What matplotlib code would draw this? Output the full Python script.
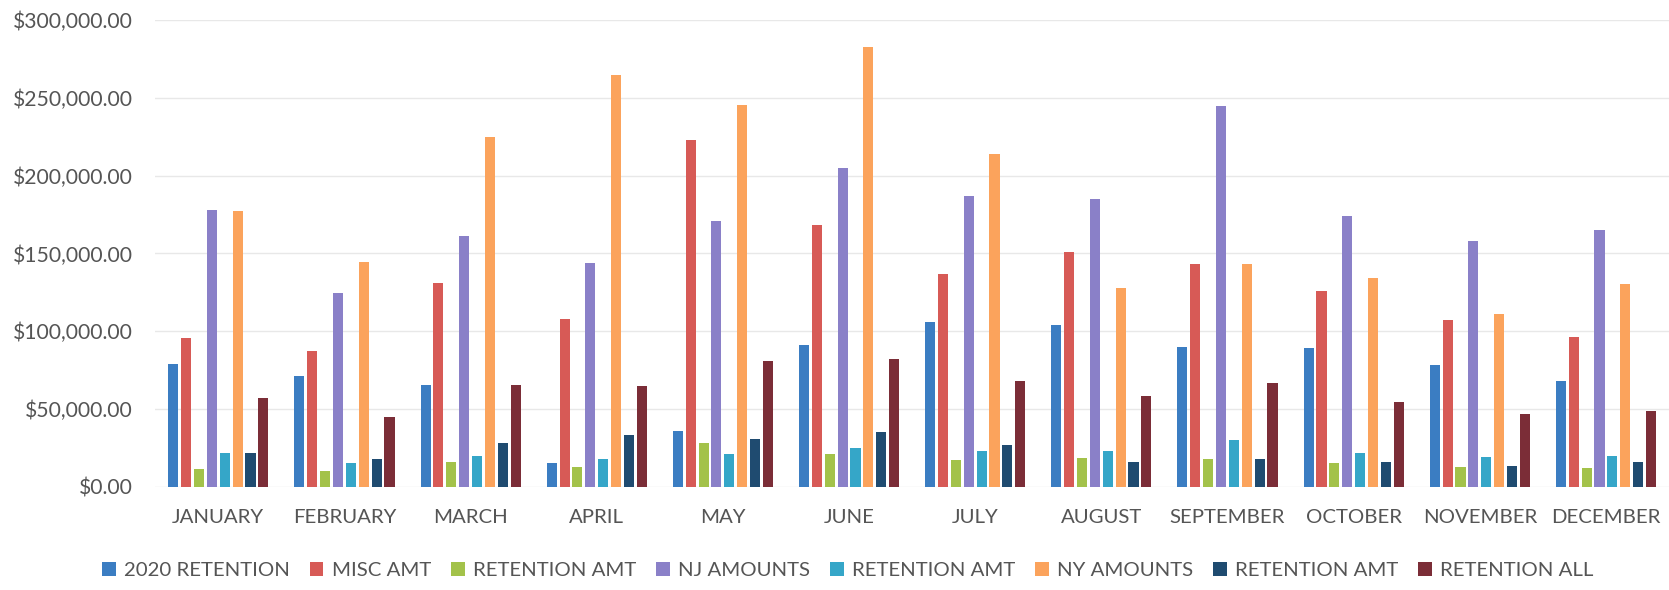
import matplotlib
matplotlib.use("Agg")
import matplotlib.pyplot as plt
from matplotlib.ticker import FuncFormatter, MultipleLocator
import numpy as np

months = ["JANUARY", "FEBRUARY", "MARCH", "APRIL", "MAY", "JUNE", "JULY",
          "AUGUST", "SEPTEMBER", "OCTOBER", "NOVEMBER", "DECEMBER"]

retention_2020 = [79000, 71500, 65500, 15000, 36000, 91000, 106000, 104000, 90000, 89000, 78000, 68000]
misc_amt = [95700, 87500, 131000, 108000, 223000, 168000, 137000, 151000, 143000, 126000, 107000, 96000]
retention_amt_1 = [11600, 10300, 16000, 13000, 28000, 21000, 17000, 18500, 17600, 15500, 12700, 11800]
nj_amounts = [177700, 124500, 161000, 143600, 170800, 205000, 187000, 185000, 245000, 174000, 157700, 165000]
retention_amt_2 = [22000, 15000, 20000, 17600, 21000, 25000, 23000, 23000, 30000, 21700, 19200, 19900]
ny_amounts = [177000, 144600, 225000, 264800, 245700, 282600, 214000, 128000, 143000, 134000, 111000, 130500]
retention_amt_3 = [22000, 17900, 28400, 33000, 30500, 35000, 26600, 16000, 17600, 16000, 13400, 15600]
retention_all = [56900, 45000, 65500, 65000, 81000, 82000, 68000, 58600, 66500, 54500, 47000, 49000]

series_names = ["2020 RETENTION", "MISC AMT", "RETENTION AMT", "NJ AMOUNTS",
                "RETENTION AMT", "NY AMOUNTS", "RETENTION AMT", "RETENTION ALL"]
series_values = [retention_2020, misc_amt, retention_amt_1, nj_amounts,
                 retention_amt_2, ny_amounts, retention_amt_3, retention_all]
colors = ["#3B7DC2", "#D75A56", "#A3C24A", "#8A80C8", "#35A6C8", "#FBA35C", "#1F4B70", "#7B2D37"]

plt.rcParams['font.family'] = ['Lato', 'DejaVu Sans']

fig = plt.figure(figsize=(16.69, 5.90), dpi=100)
ax = fig.add_axes([0.093, 0.175, 0.907, 0.791])

x = np.arange(len(months))
n = len(series_values)
slot = 0.102
bw = 0.08
for i, (name, vals, c) in enumerate(zip(series_names, series_values, colors)):
    offs = (i - (n - 1) / 2) * slot
    ax.bar(x + offs, vals, width=bw, color=c, label=name, zorder=3)

ax.set_xlim(-0.5, len(months) - 0.5)
ax.set_ylim(0, 300000)
ax.yaxis.set_major_locator(MultipleLocator(50000))
ax.yaxis.set_major_formatter(FuncFormatter(lambda v, p: "${:,.2f}".format(v)))
ax.set_xticks(x)
ax.set_xticklabels(months)
ax.grid(axis='y', color='#E8E8E8', linewidth=1, zorder=0)
for s in ax.spines.values():
    s.set_visible(False)
ax.tick_params(axis='both', length=0, colors='#555555')
ax.tick_params(axis='x', pad=16, labelsize=14.7)
ax.tick_params(axis='y', pad=16, labelsize=15.2)

leg = fig.legend(loc='center', bbox_to_anchor=(0.508, 0.033), ncol=8, frameon=False,
                 fontsize=14.7, handlelength=0.65, handleheight=0.65, handletextpad=0.4,
                 columnspacing=1.0, labelcolor='#555555')

fig.savefig("out.png", dpi=100)
